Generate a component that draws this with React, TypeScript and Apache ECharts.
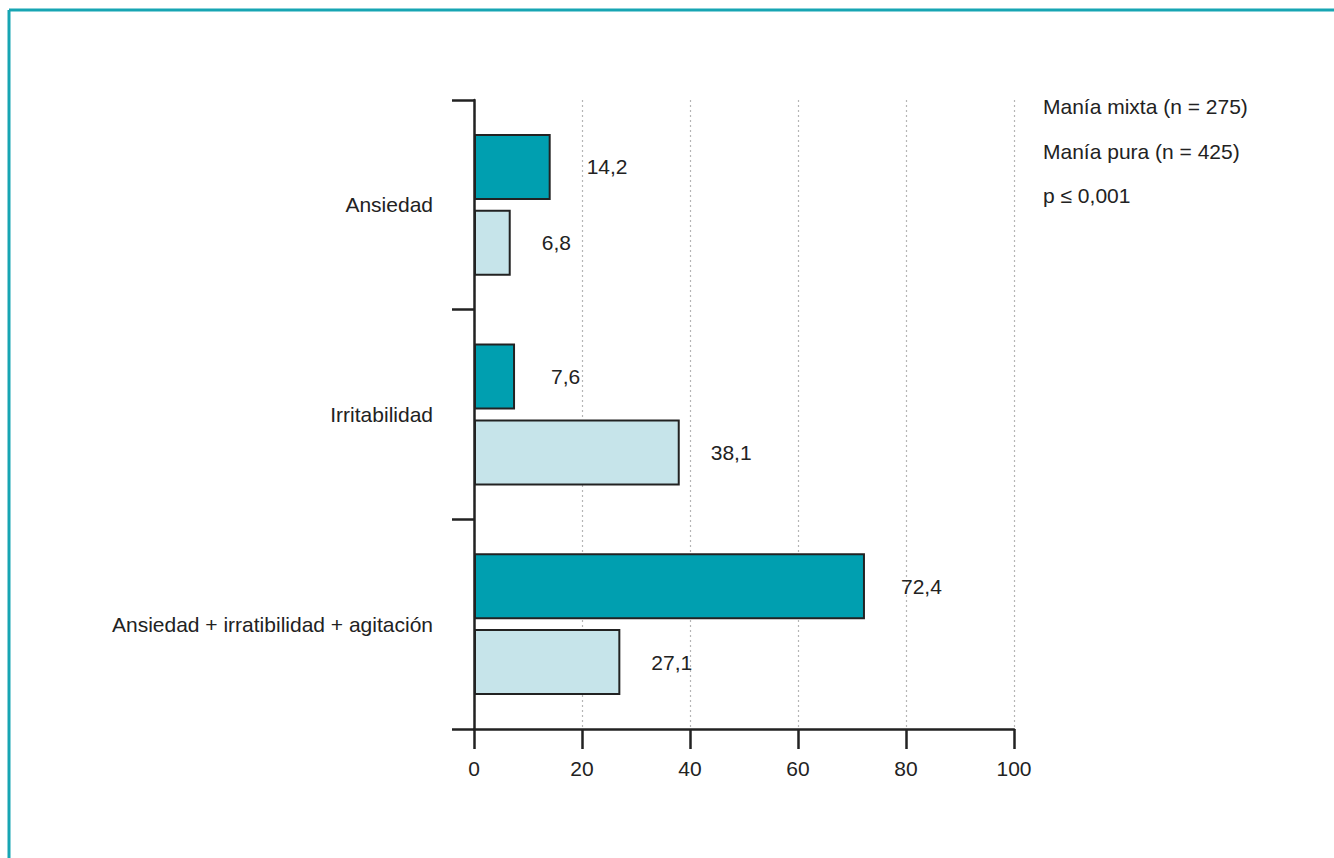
import React, { useEffect, useRef } from "react";
import * as echarts from "echarts";

const categories = ["Ansiedad", "Irritabilidad", "Ansiedad + irratibilidad + agitación"];
const seriesNames = ["Manía mixta (n = 275)", "Manía pura (n = 425)"];
const mixta = [14.2, 7.6, 72.4];
const pura = [6.8, 38.1, 27.1];
const pText = "p ≤ 0,001";
const xTicks = { min: 0, max: 100, interval: 20 };

const FONT = "'Liberation Sans', Arial, Helvetica, sans-serif";
const TEAL = "#009fb0";
const LIGHT = "#c6e4ea";
const INK = "#222222";
const FS = 21;

export default function App() {
  const ref = useRef<HTMLDivElement>(null);
  useEffect(() => {
    if (!ref.current) return;
    const chart = echarts.init(ref.current, undefined, { renderer: "svg" });
    const fmt = (p: any) => String(p.value).replace(".", ",");
    chart.setOption({
      animation: false,
      backgroundColor: "#ffffff",
      textStyle: { fontFamily: FONT },
      grid: { left: 474, right: 320, top: 100, bottom: 129, containLabel: false },
      xAxis: {
        type: "value",
        position: "bottom",
        min: xTicks.min,
        max: xTicks.max,
        interval: xTicks.interval,
        axisLine: { show: true, lineStyle: { color: INK, width: 2.5 } },
        axisTick: { show: true, length: 20, interval: 0, lineStyle: { color: INK, width: 2.5 } },
        axisLabel: { margin: 29, fontSize: FS, color: INK, fontFamily: FONT },
        splitLine: { show: true, lineStyle: { color: "#b5b5b5", type: [2, 3], width: 1.2 } },
      },
      yAxis: {
        type: "category",
        inverse: true,
        data: categories,
        axisLine: { show: true, lineStyle: { color: INK, width: 2.5 } },
        axisTick: { show: true, length: 22, inside: false, lineStyle: { color: INK, width: 2.5 } },
        axisLabel: { margin: 41, fontSize: FS, color: INK, fontFamily: FONT },
        splitLine: { show: false },
      },
      series: [
        {
          name: seriesNames[0],
          type: "bar",
          data: mixta,
          barWidth: 66,
          barGap: "15%",
          itemStyle: { color: TEAL, borderColor: INK, borderWidth: 2 },
          label: { show: true, position: "right", distance: 36, fontSize: FS, color: INK, fontFamily: FONT, formatter: fmt },
        },
        {
          name: seriesNames[1],
          type: "bar",
          data: pura,
          barWidth: 66,
          barGap: "15%",
          itemStyle: { color: LIGHT, borderColor: INK, borderWidth: 2 },
          label: { show: true, position: "right", distance: 31, fontSize: FS, color: INK, fontFamily: FONT, formatter: fmt },
        },
      ],
      graphic: [
        { type: "line", shape: { x1: 9, y1: 10, x2: 1334, y2: 10 }, style: { stroke: "#17a5b3", lineWidth: 3 } },
        { type: "line", shape: { x1: 9, y1: 10, x2: 9, y2: 858 }, style: { stroke: "#17a5b3", lineWidth: 3 } },
        { type: "text", left: 1043, top: 96, style: { text: seriesNames[0], fontSize: FS, fill: INK, fontFamily: FONT } },
        { type: "text", left: 1043, top: 141, style: { text: seriesNames[1], fontSize: FS, fill: INK, fontFamily: FONT } },
        { type: "text", left: 1043, top: 185, style: { text: pText, fontSize: FS, fill: INK, fontFamily: FONT } },
      ],
    });
    return () => chart.dispose();
  }, []);
  return (
    <div
      ref={ref}
      style={{ position: "fixed", left: 0, top: 0, width: 1334, height: 858, background: "#fff" }}
    />
  );
}
